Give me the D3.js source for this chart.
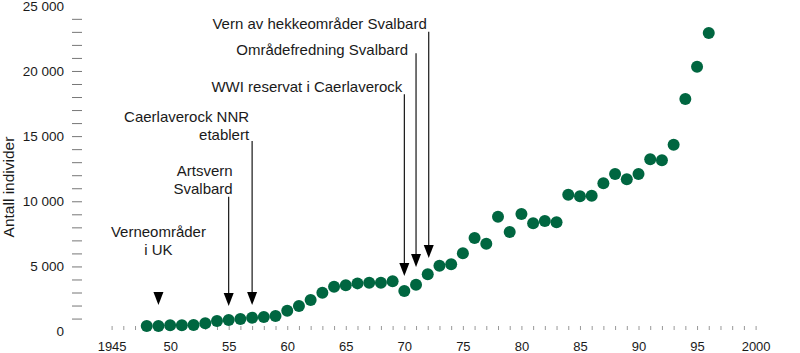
<!DOCTYPE html>
<html>
<head>
<meta charset="utf-8">
<script src="https://cdn.jsdelivr.net/npm/d3@7"></script>
<style>
  body { margin: 0; background: #fff; }
  text { font-family: "Liberation Sans", Arial, sans-serif; fill: #1a1a1a; }
</style>
</head>
<body>
<script>
var w = 800
var h = 353

// Years and counts
var years = [1948, 1949, 1950, 1951, 1952, 1953, 1954, 1955, 1956, 1957,
             1958, 1959, 1960, 1961, 1962, 1963, 1964, 1965, 1966, 1967,
             1968, 1969, 1970, 1971, 1972, 1973, 1974, 1975, 1976, 1977,
             1978, 1979, 1980, 1981, 1982, 1983, 1984, 1985, 1986, 1987,
             1988, 1989, 1990, 1991, 1992, 1993, 1994, 1995, 1996];

var counts = [430, 430, 480, 480, 500, 640, 810, 890, 970, 1070,
              1120, 1200, 1600, 1960, 2420, 2990, 3450, 3550, 3700, 3750,
              3750, 3860, 3120, 3600, 4400, 5060, 5160, 6010, 7180, 6750,
              8820, 7640, 9020, 8310, 8490, 8390, 10500, 10380, 10430, 11380,
              12090, 11690, 12090, 13220, 13140, 14340, 17850, 20330, 22910];

var xTicks = [1945, 1950, 1955, 1960, 1965, 1970, 1975, 1980, 1985, 1990, 1995, 2000];
var xTickLabels = ["1945", "50", "55", "60", "65", "70", "75", "80", "85", "90", "95", "2000"];
var yTicks = [0, 5000, 10000, 15000, 20000, 25000];

// Events: year of the arrow, label lines
var eventYears = [1949, 1955, 1957, 1970, 1971, 1972];
var eventLabels = [
  ["Verneområder", "i UK"],
  ["Artsvern", "Svalbard"],
  ["Caerlaverock NNR", "etablert"],
  ["WWI reservat i Caerlaverock"],
  ["Områdefredning Svalbard"],
  ["Vern av hekkeområder Svalbard"]
];

var x = d3.scaleLinear().domain([1945, 2000]).range([111.6, 755.6]);
var y = d3.scaleLinear().domain([0, 25000]).range([331.6, 5.8]);

var nb = d3.formatLocale({ decimal: ",", thousands: " ", grouping: [3], currency: ["", ""] });
var fmt = nb.format(",");

var svg = d3.select("body").append("svg")
    .attr("width", w)
    .attr("height", h);

// y axis: minor ticks every 1000, labels every 5000
var yMinor = d3.range(1000, 25000, 1000);
svg.append("g")
    .attr("transform", "translate(82,0)")
    .call(d3.axisLeft(y).tickValues(yMinor).tickSize(10).tickFormat(""))
    .call(function(g) { g.select(".domain").remove(); })
    .selectAll("line").attr("stroke", "#777");

svg.append("g")
    .attr("transform", "translate(82,0)")
    .call(d3.axisLeft(y).tickValues(yTicks).tickSize(0).tickPadding(18).tickFormat(fmt))
    .call(function(g) { g.select(".domain").remove(); })
    .selectAll("text")
      .style("font-family", "Liberation Sans, Arial, sans-serif")
      .style("font-size", "13.5px")
      .attr("fill", "#1a1a1a");

svg.append("text")
    .attr("transform", "translate(14," + 187 + ") rotate(-90)")
    .attr("text-anchor", "middle")
    .style("font-size", "15.5px")
    .text("Antall individer");

// x axis: a small grey tick each year
svg.append("g")
    .attr("transform", "translate(0,326)")
    .call(d3.axisBottom(x).tickValues(d3.range(1945, 2001)).tickSize(4).tickFormat(""))
    .call(function(g) { g.select(".domain").remove(); })
    .selectAll("line").attr("stroke", "#999");

svg.append("g")
    .attr("transform", "translate(0,333)")
    .call(d3.axisBottom(x).tickValues(xTicks).tickSize(0).tickPadding(9)
        .tickFormat(function(d, i) { return xTickLabels[i]; }))
    .call(function(g) { g.select(".domain").remove(); })
    .selectAll("text")
      .style("font-family", "Liberation Sans, Arial, sans-serif")
      .style("font-size", "13px")
      .attr("fill", "#1a1a1a");

// annotation layout (value units for the y positions)
var textVal = [7230, 11910, 16050, 18350, 21230, 23190];
var textDx = [0, 4, -3, -2, -8, -1];
var lineTop = [null, 10350, 14630, 18210, 21360, 23010];
var tipVal = [2040, 1960, 2040, 4270, 4960, 5650];
var lineDx = [0, 0, 0, 0, 0, 1];

var notes = svg.selectAll(".note").data(eventYears).enter()
    .append("g")
      .attr("class", "note");

notes.each(function(yr, i) {
  var g = d3.select(this);
  var ax = x(yr) + lineDx[i];
  var tipY = y(tipVal[i]);
  if (lineTop[i] !== null) {
    g.append("line")
        .attr("x1", ax).attr("x2", ax)
        .attr("y1", y(lineTop[i])).attr("y2", tipY - 8)
        .attr("stroke", "#000")
        .attr("stroke-width", 1.1);
  }
  g.append("path")
      .attr("d", "M" + (ax - 5) + "," + (tipY - 13) + "L" + (ax + 5) + "," + (tipY - 13) + "L" + ax + "," + tipY + "Z")
      .attr("fill", "#000");

  var t = g.append("text")
      .attr("text-anchor", i === 0 ? "middle" : "end")
      .style("font-size", "15px");
  eventLabels[i].forEach(function(s, k) {
    t.append("tspan")
        .attr("x", x(yr) + textDx[i])
        .attr("y", y(textVal[i]) + k * 18)
        .text(s);
  });
});

// the counts
svg.selectAll(".dot").data(counts).enter()
  .append("circle")
    .attr("class", "dot")
    .attr("cx", function(d, i) { return x(years[i]); })
    .attr("cy", function(d) { return y(d); })
    .attr("r", 6)
    .attr("fill", "#006640");
</script>
</body>
</html>
